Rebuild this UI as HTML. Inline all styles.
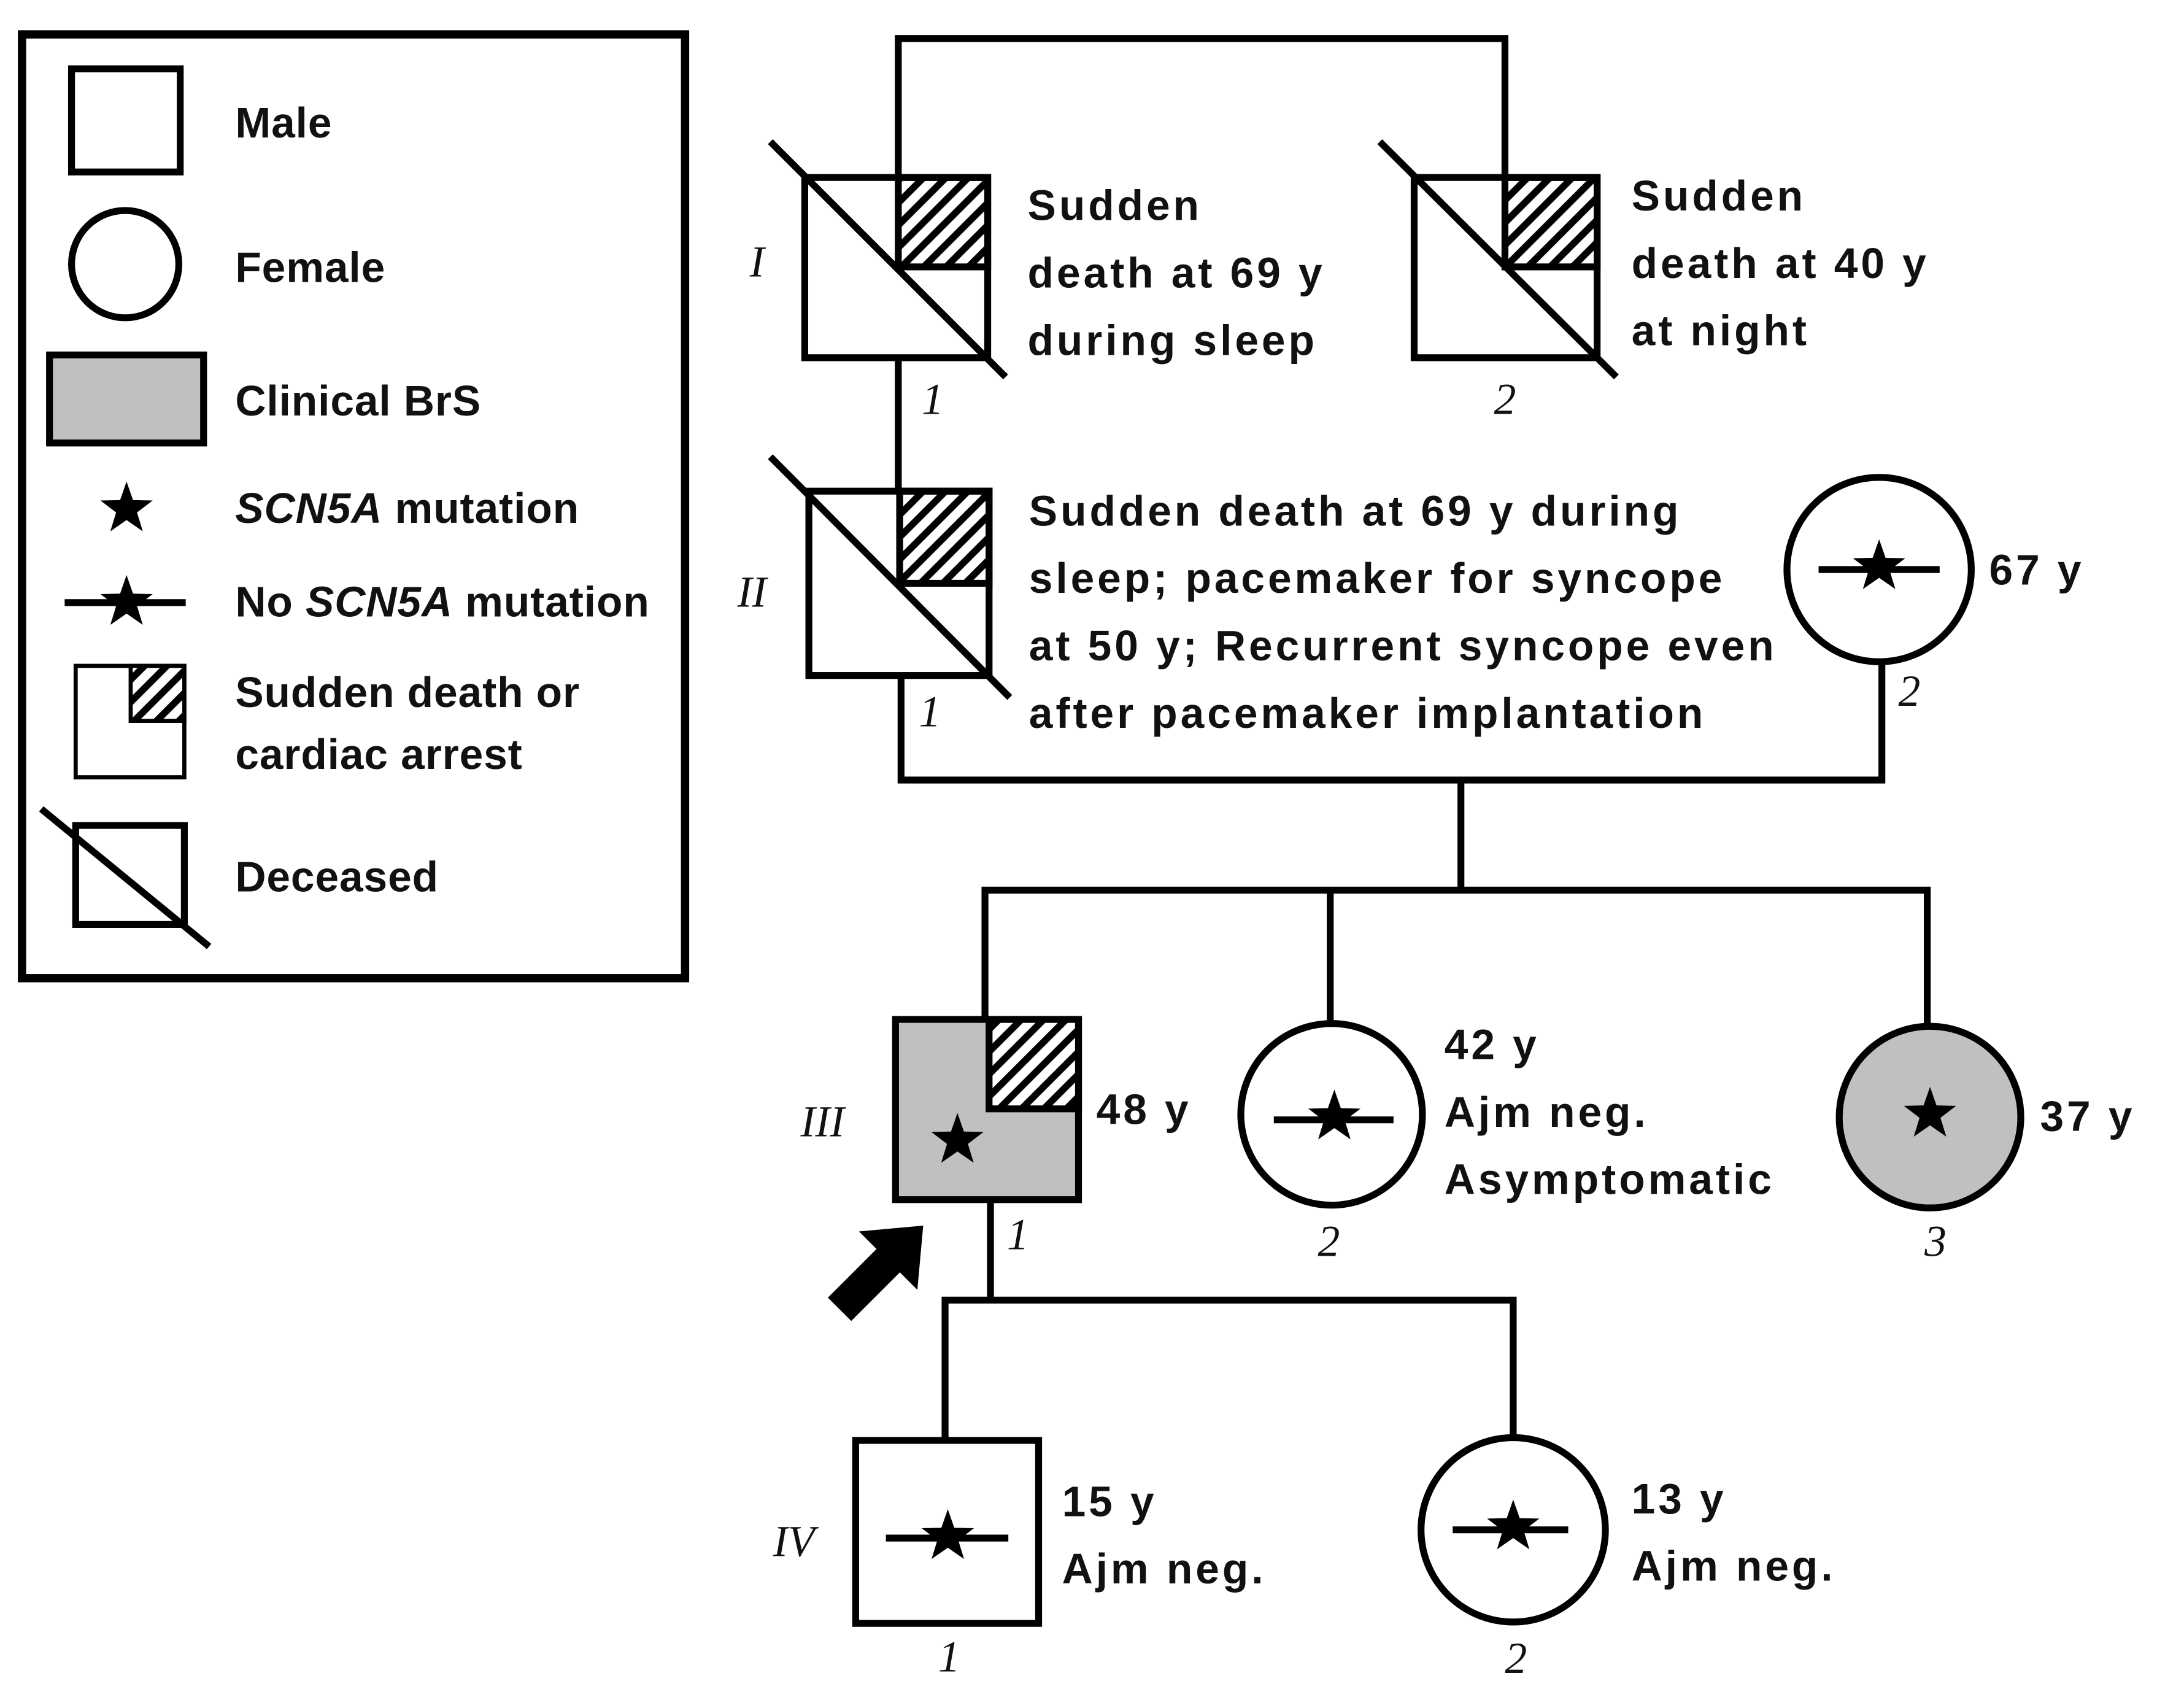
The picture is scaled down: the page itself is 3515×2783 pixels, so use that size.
<!DOCTYPE html>
<html><head><meta charset="utf-8"><style>
html,body{margin:0;padding:0;background:#fff;}
svg{display:block;}
text{font-family:"Liberation Sans",sans-serif;font-weight:bold;font-size:31px;fill:#111;letter-spacing:2.2px;}
.l{letter-spacing:0.4px;}
.r{font-family:"Liberation Serif",serif;font-style:italic;font-weight:normal;font-size:32px;letter-spacing:0;}
</style></head><body>
<svg width="3515" height="2783" viewBox="0 0 1568 1241.5" preserveAspectRatio="none" xmlns="http://www.w3.org/2000/svg">
<defs>
<pattern id="h" patternUnits="userSpaceOnUse" width="11.5" height="11.5" patternTransform="rotate(45)">
<rect width="11.5" height="11.5" fill="#fff"/><rect x="0" y="0" width="5" height="11.5" fill="#000"/>
</pattern>
<polygon id="st" points="0,-20 4.7,-6.5 19,-6.2 7.6,2.5 11.8,16.2 0,8 -11.8,16.2 -7.6,2.5 -19,-6.2 -4.7,-6.5" fill="#000"/>
</defs>
<rect width="1568" height="1242" fill="#fff"/>
<g stroke="#000" stroke-width="5" fill="none">
<rect x="16" y="25" width="482" height="686" stroke-width="6"/>
<rect x="52" y="50" width="79" height="75"/>
<circle cx="91" cy="192" r="39"/>
<rect x="36" y="258" width="112" height="64" fill="#c0c0c0"/>
<line x1="47" y1="438" x2="135" y2="438"/>
<rect x="55" y="484" width="79" height="81" stroke-width="3"/>
<rect x="95" y="484" width="39" height="40" fill="url(#h)" stroke-width="3"/>
<rect x="55" y="600" width="79" height="72"/>
<line x1="30" y1="588" x2="152" y2="688"/>
<polyline points="653,129 653,28 1094,28 1094,129"/>
<line x1="653" y1="260" x2="653" y2="357"/>
<polyline points="655,491 655,567 1368,567 1368,481"/>
<line x1="1062" y1="567" x2="1062" y2="647"/>
<polyline points="716,741 716,647 1401,647 1401,747"/>
<line x1="967" y1="647" x2="967" y2="745"/>
<line x1="720" y1="872" x2="720" y2="945"/>
<polyline points="687,1047 687,945 1100,945 1100,1045"/>
<rect x="653" y="129" width="65" height="65" fill="url(#h)"/>
<rect x="585" y="129" width="133" height="131"/>
<line x1="560" y1="103" x2="731" y2="274"/>
<rect x="1094" y="129" width="67" height="65" fill="url(#h)"/>
<rect x="1028" y="129" width="133" height="131"/>
<line x1="1003" y1="103" x2="1175" y2="274"/>
<rect x="654" y="357" width="65" height="67" fill="url(#h)"/>
<rect x="588" y="357" width="131" height="134"/>
<line x1="560" y1="332" x2="734" y2="507"/>
<circle cx="1366" cy="414" r="67"/>
<line x1="1322" y1="414" x2="1410" y2="414"/>
<rect x="651" y="741" width="133" height="131" fill="#c0c0c0"/>
<rect x="719" y="741" width="65" height="65" fill="url(#h)"/>
<circle cx="968" cy="810" r="66"/>
<line x1="926" y1="814" x2="1013" y2="814"/>
<circle cx="1403" cy="812" r="66" fill="#c0c0c0"/>
<rect x="622" y="1047" width="133" height="133"/>
<line x1="644" y1="1118" x2="733" y2="1118"/>
<circle cx="1100" cy="1112" r="67"/>
<line x1="1056" y1="1112" x2="1140" y2="1112"/>
</g>
<use href="#st" x="92" y="370"/>
<use href="#st" x="92" y="438"/>
<use href="#st" x="1366" y="412"/>
<use href="#st" x="696" y="829"/>
<use href="#st" x="970" y="812"/>
<use href="#st" x="1403" y="810"/>
<use href="#st" x="689" y="1117"/>
<use href="#st" x="1100" y="1110"/>
<polygon transform="translate(640,922) rotate(-45)" points="-42,-12 8,-12 8,-30 44,0 8,30 8,12 -42,12" fill="#000"/>
<text class="l" x="171" y="100">Male</text>
<text class="l" x="171" y="205">Female</text>
<text class="l" x="171" y="302">Clinical BrS</text>
<text class="l" x="171" y="380"><tspan font-style="italic">SCN5A</tspan> mutation</text>
<text class="l" x="171" y="448">No <tspan font-style="italic">SCN5A</tspan> mutation</text>
<text class="l" x="171" y="514">Sudden death or</text>
<text class="l" x="171" y="559">cardiac arrest</text>
<text class="l" x="171" y="648">Deceased</text>
<text class="r" x="545" y="201">I</text>
<text class="r" x="536" y="441">II</text>
<text class="r" x="582" y="826">III</text>
<text class="r" x="562" y="1131">IV</text>
<text class="r" x="670" y="301">1</text>
<text class="r" x="1086" y="301">2</text>
<text class="r" x="668" y="528">1</text>
<text class="r" x="1380" y="513">2</text>
<text class="r" x="732" y="908">1</text>
<text class="r" x="958" y="913">2</text>
<text class="r" x="1399" y="913">3</text>
<text class="r" x="682" y="1215">1</text>
<text class="r" x="1094" y="1216">2</text>
<text x="747" y="160">Sudden</text>
<text x="747" y="209">death at 69 y</text>
<text x="747" y="258">during sleep</text>
<text x="1186" y="153">Sudden</text>
<text x="1186" y="202">death at 40 y</text>
<text x="1186" y="251">at night</text>
<text x="748" y="382">Sudden death at 69 y during</text>
<text x="748" y="431">sleep; pacemaker for syncope</text>
<text x="748" y="480">at 50 y; Recurrent syncope even</text>
<text x="748" y="529">after pacemaker implantation</text>
<text x="1446" y="425">67 y</text>
<text x="797" y="817">48 y</text>
<text x="1050" y="770">42 y</text>
<text x="1050" y="819">Ajm neg.</text>
<text x="1050" y="868">Asymptomatic</text>
<text x="1483" y="822">37 y</text>
<text x="772" y="1102">15 y</text>
<text x="772" y="1151">Ajm neg.</text>
<text x="1186" y="1100">13 y</text>
<text x="1186" y="1149">Ajm neg.</text>
</svg>
</body></html>
